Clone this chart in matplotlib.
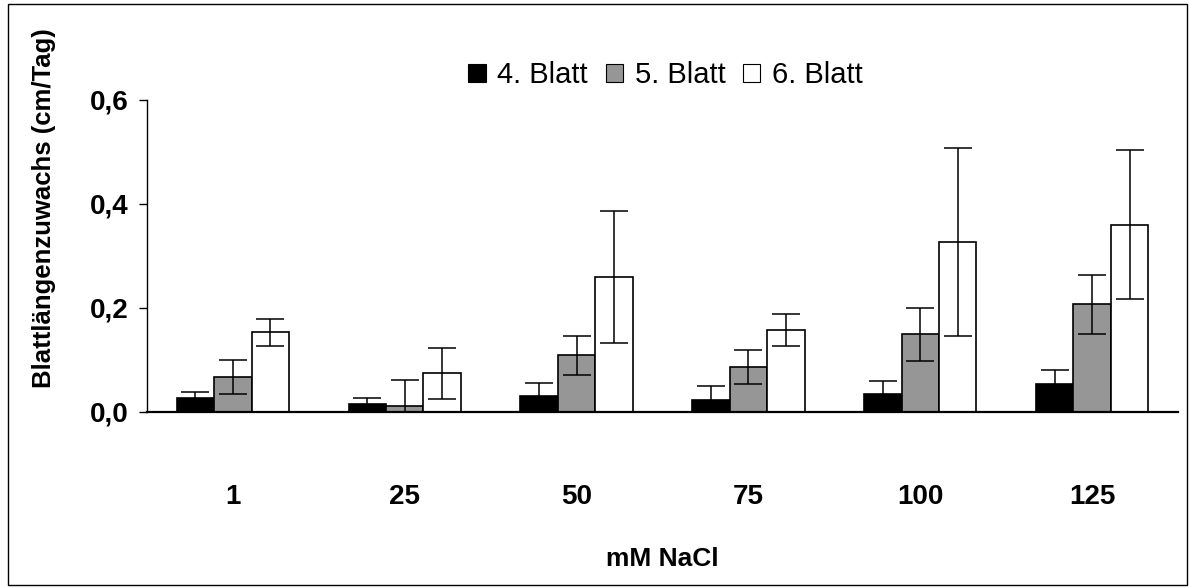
import matplotlib
matplotlib.use("Agg")
import matplotlib.pyplot as plt
from matplotlib.patches import Rectangle
import numpy as np

# ---- data ----
categories = ["1", "25", "50", "75", "100", "125"]
series_names = ["4. Blatt", "5. Blatt", "6. Blatt"]
blatt4 = [0.027, 0.015, 0.031, 0.023, 0.035, 0.054]
blatt4_err = [0.012, 0.012, 0.024, 0.027, 0.024, 0.027]
blatt5 = [0.067, 0.011, 0.109, 0.086, 0.149, 0.207]
blatt5_err = [0.032, 0.051, 0.037, 0.033, 0.051, 0.057]
blatt6 = [0.153, 0.074, 0.259, 0.157, 0.326, 0.360]
blatt6_err = [0.026, 0.049, 0.126, 0.031, 0.181, 0.143]
yticks = [0.0, 0.2, 0.4, 0.6]
ytick_labels = ["0,0", "0,2", "0,4", "0,6"]

plt.rcParams["font.family"] = ["Liberation Sans", "DejaVu Sans"]

W, H = 1190, 588
fig = plt.figure(figsize=(W / 100, H / 100), dpi=100)
ax = fig.add_axes([147 / W, 1 - 412 / H, (1178 - 147) / W, (412 - 99.5) / H])

x = np.arange(len(categories))
bw = 0.218
colors = ["#000000", "#969696", "#ffffff"]
vals = [blatt4, blatt5, blatt6]
errs = [blatt4_err, blatt5_err, blatt6_err]
for i in range(3):
    ax.bar(x + (i - 1) * bw, vals[i], width=bw, color=colors[i],
           edgecolor="black", linewidth=1.2, label=series_names[i], zorder=2)
    ax.errorbar(x + (i - 1) * bw, vals[i], yerr=errs[i], fmt="none",
                ecolor="black", elinewidth=1.1, capsize=10, capthick=1.1, zorder=3)

ax.set_xlim(-0.5, len(categories) - 0.5)
ax.set_ylim(0, 0.6)
ax.set_yticks(yticks)
ax.set_yticklabels(ytick_labels)
ax.set_xticks(x)
ax.set_xticklabels(categories)
for s in ["top", "right"]:
    ax.spines[s].set_visible(False)
ax.spines["left"].set_linewidth(1.0)
ax.spines["bottom"].set_linewidth(1.6)
ax.tick_params(axis="y", direction="out", length=6, width=1, pad=7,
               labelsize=20)
ax.tick_params(axis="x", length=0, pad=52, labelsize=20)
for t in ax.get_xticklabels() + ax.get_yticklabels():
    t.set_fontweight("bold")

ax.set_xlabel("mM NaCl", fontsize=19, fontweight="bold", va="top")
ax.xaxis.set_label_coords(0.5, (412 - 547) / 312.5)
ax.set_ylabel("Blattlängenzuwachs (cm/Tag)", fontsize=18.5, fontweight="bold",
              va="center")
ax.yaxis.set_label_coords((44 - 147) / 1031, (412 - 208) / 312.5)

leg = ax.legend(loc="center", bbox_to_anchor=(0.503, 1.078), ncol=3,
                frameon=False, fontsize=21, handlelength=0.6,
                handleheight=0.6, handletextpad=0.4, columnspacing=0.6,
                borderaxespad=0)
for p in leg.get_patches():
    p.set_linewidth(0.8)

fig.patches.append(Rectangle((7.5 / W, 3.5 / H), (1187 - 7.5) / W, (584 - 3.5) / H,
                             transform=fig.transFigure, fill=False,
                             edgecolor="black", linewidth=1.0))

fig.savefig("out.png", dpi=100)
